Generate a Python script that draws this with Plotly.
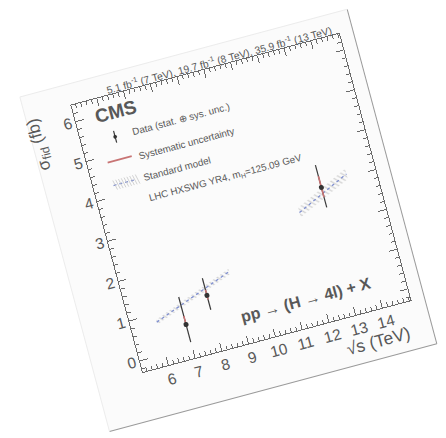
import plotly.graph_objects as go

# measured fiducial cross sections (fb)
energy = [7, 8, 13]
sigma = [0.56, 1.11, 2.92]
tot_up = [0.69, 0.43, 0.56]
tot_dn = [0.44, 0.36, 0.50]
sys_up = [0.21, 0.14, 0.28]
sys_dn = [0.06, 0.10, 0.24]

# SM prediction (LHC HXSWG YR4)
sm_x_low = [6, 7, 8, 9]
sm_low = [0.80, 1.04, 1.28, 1.53]
sm_low_unc = [0.06, 0.06, 0.07, 0.07]
sm_x_high = [12, 13, 14]
sm_high = [2.47, 2.77, 3.08]
sm_high_unc = [0.12, 0.12, 0.13]

x_ticks = [6, 7, 8, 9, 10, 11, 12, 13, 14]
y_ticks = [0, 1, 2, 3, 4, 5, 6]

TXT = "#585858"
AX = "#6a6a6a"
FONT = "Liberation Sans, Arial, sans-serif"

fig = go.Figure()

for xs, ys, us in [(sm_x_low, sm_low, sm_low_unc), (sm_x_high, sm_high, sm_high_unc)]:
    lo = [y - u for y, u in zip(ys, us)]
    hi = [y + u for y, u in zip(ys, us)]
    fig.add_trace(go.Scatter(x=xs, y=lo, mode="lines", line=dict(width=0), showlegend=False, hoverinfo="skip"))
    fig.add_trace(go.Scatter(x=xs, y=hi, mode="lines", line=dict(width=0), fill="tonexty",
                             fillcolor="rgba(255,255,255,0)",
                             fillpattern=dict(shape="\\", fgcolor="#a8a8a8", size=4, solidity=0.3),
                             showlegend=False, hoverinfo="skip"))
    fig.add_trace(go.Scatter(x=xs, y=ys, mode="lines", line=dict(color="#8090d0", width=1.3, dash="dot"),
                             showlegend=False))

# total uncertainty
fig.add_trace(go.Scatter(x=energy, y=sigma, mode="markers", marker=dict(size=1, color="rgba(0,0,0,0)"),
                         error_y=dict(type="data", symmetric=False, array=tot_up, arrayminus=tot_dn,
                                      color="#3a3a3a", thickness=1.2, width=0),
                         showlegend=False))
# systematic part + points
fig.add_trace(go.Scatter(x=energy, y=sigma, mode="markers", marker=dict(size=5, color="#333333"),
                         error_y=dict(type="data", symmetric=False, array=sys_up, arrayminus=sys_dn,
                                      color="#c87474", thickness=1.6, width=0),
                         showlegend=False))

axis_common = dict(showline=True, linecolor=AX, linewidth=1, mirror="ticks", ticks="inside",
                   ticklen=8, tickcolor=AX, showgrid=False, zeroline=False,
                   tickfont=dict(family=FONT, size=15.5, color=TXT),
                   minor=dict(ticks="inside", ticklen=4, dtick=0.2, tickcolor=AX))

fig.update_xaxes(range=[5.05, 15.05], tickmode="array", tickvals=x_ticks, **axis_common)
fig.update_yaxes(range=[-0.28, 6.41], tickmode="array", tickvals=y_ticks, **axis_common)

# page of paper
page = dict(x0=-0.172, x1=1.0515, y0=-0.177, y1=1.0774)
shapes = [
    dict(type="rect", xref="paper", yref="paper", layer="below", **page,
         fillcolor="#fbfbfb", line=dict(width=0)),
    dict(type="line", xref="paper", yref="paper", x0=page["x1"], x1=page["x1"], y0=page["y0"], y1=page["y1"],
         line=dict(color="#9a9a9a", width=1)),
    dict(type="line", xref="paper", yref="paper", x0=page["x0"], x1=page["x1"], y0=page["y0"], y1=page["y0"],
         line=dict(color="#9a9a9a", width=1)),
    dict(type="line", xref="paper", yref="paper", x0=page["x0"], x1=page["x0"], y0=page["y0"], y1=page["y1"],
         line=dict(color="#ececec", width=1)),
    dict(type="line", xref="paper", yref="paper", x0=page["x0"], x1=page["x1"], y0=page["y1"], y1=page["y1"],
         line=dict(color="#ececec", width=1)),
    # legend keys
    dict(type="line", xref="paper", yref="paper", x0=0.123, x1=0.123, y0=0.827, y1=0.871,
         line=dict(color="#3a3a3a", width=1.2)),
    dict(type="circle", xref="paper", yref="paper", x0=0.1165, x1=0.1295, y0=0.8425, y1=0.8555,
         fillcolor="#333333", line=dict(width=0)),
    dict(type="line", xref="paper", yref="paper", x0=0.073, x1=0.163, y0=0.766, y1=0.766,
         line=dict(color="#c87474", width=1.8)),
    dict(type="line", xref="paper", yref="paper", x0=0.072, x1=0.158, y0=0.680, y1=0.680,
         line=dict(color="#8090d0", width=1.3, dash="dot")),
]
# hatch for legend key of SM band
for i in range(9):
    xa = 0.074 + i * 0.0105
    shapes.append(dict(type="line", xref="paper", yref="paper", x0=xa, x1=xa + 0.008, y0=0.698, y1=0.662,
                       line=dict(color="#c4c4c4", width=0.7)))

ann = [
    dict(x=0.066, y=0.937, text="<b>CMS</b>", size=19, xanchor="left"),
    dict(x=0.180, y=0.850, text="Data (stat. \u2295 sys. unc.)", size=9.8, xanchor="left"),
    dict(x=0.180, y=0.759, text="Systematic uncertainty", size=9.8, xanchor="left"),
    dict(x=0.178, y=0.678, text="Standard model", size=9.8, xanchor="left"),
    dict(x=0.178, y=0.602, text="LHC HXSWG YR4, m<sub>H</sub>=125.09 GeV", size=9.8, xanchor="left"),
    dict(x=0.884, y=0.1005, text="<b>pp \u2192 (H \u2192 4l) + X</b>", size=16, xanchor="right"),
    dict(x=0.985, y=1.024,
         text="5.1 fb<sup>-1</sup> (7 TeV), 19.7 fb<sup>-1</sup> (8 TeV), 35.9 fb<sup>-1</sup> (13 TeV)",
         size=10.3, xanchor="right"),
    dict(x=0.976, y=-0.113, text="\u221As (TeV)", size=17.5, xanchor="right"),
]
for a in ann:
    fig.add_annotation(xref="paper", yref="paper", x=a["x"], y=a["y"], text=a["text"], showarrow=False,
                       xanchor=a["xanchor"], yanchor="middle",
                       font=dict(family=FONT, size=a["size"], color=TXT))
fig.add_annotation(xref="paper", yref="paper", x=-0.145, y=0.997, text="\u03c3<sub>fid</sub> (fb)",
                   textangle=-90, showarrow=False, xanchor="center", yanchor="top",
                   font=dict(family=FONT, size=17, color=TXT))

fig.update_layout(width=446, height=438, shapes=shapes,
                  margin=dict(l=105.8, r=62.8, t=69.9, b=91.5),
                  paper_bgcolor="white", plot_bgcolor="rgba(0,0,0,0)", showlegend=False)

# the page is photographed slightly tilted
tilt = ("document.body.style.margin='0';document.body.style.overflow='hidden';"
        "var d=document.getElementById('{plot_id}');d.style.transformOrigin='223px 219px';"
        "d.style.transform='rotate(-15deg)';")
fig.write_html("out.html", post_script=tilt)
